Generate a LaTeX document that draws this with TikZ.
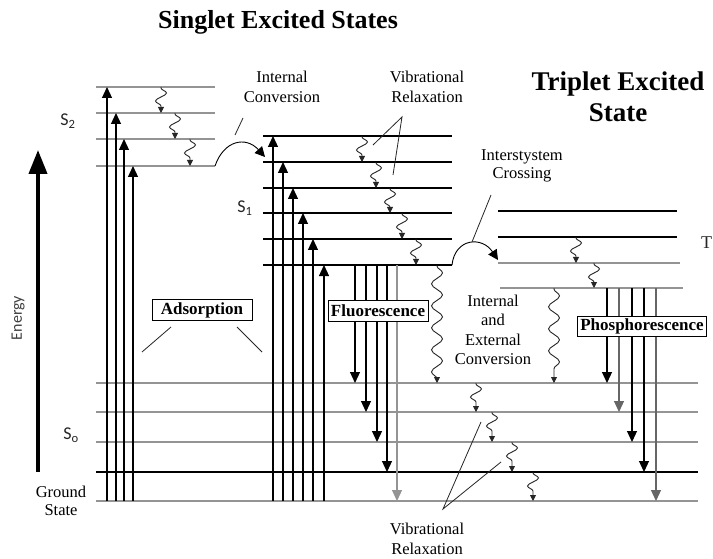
\documentclass[tikz,border=0pt]{standalone}
\usepackage{fontspec}
\setmainfont{Liberation Serif}
\newfontfamily\calib{Carlito}
\usetikzlibrary{arrows.meta,decorations.pathmorphing}
\definecolor{lvlgray}{gray}{0.58}
\tikzset{
  lvl/.style={line width=1.7pt, draw=lvlgray},
  lvlb/.style={line width=1.3pt, draw=black},
  absarrow/.style={line width=1.2pt, -{Triangle[width=10pt,length=11pt]}},
  emarrow/.style={line width=1.2pt, -{Triangle[width=10pt,length=11pt]}},
  wav/.style={line width=0.9pt, draw=black!85, decorate,
    decoration={snake, amplitude=5.5pt, segment length=16pt, pre length=1pt, post length=4pt},
    -{Triangle[width=6pt,length=6pt]}},
  longwav/.style={line width=0.9pt, draw=black!85, decorate,
    decoration={snake, amplitude=5.5pt, segment length=22pt, pre length=1pt, post length=4pt},
    -{Triangle[width=6pt,length=6pt]}},
  curvarrow/.style={line width=0.9pt, -{Triangle[width=10pt,length=10pt]}},
  pointer/.style={line width=0.8pt, draw=black!85},
  lbl/.style={font=\fontsize{16.5}{19.5}\selectfont, align=center, inner sep=0pt},
  title/.style={font=\fontsize{26}{31}\selectfont\bfseries, align=center, inner sep=0pt},
  boxlbl/.style={draw, line width=0.9pt, fill=white, font=\fontsize{17}{19}\selectfont\bfseries,
    inner sep=0pt, minimum height=21pt},
  slbl/.style={font=\calib\fontsize{18}{20}\selectfont, text=black!85, inner sep=0pt}
}
\begin{document}
\begin{tikzpicture}[x=1pt,y=-1pt]
\useasboundingbox (0,0) rectangle (713,559);
\fill[white] (0,0) rectangle (713,559);

% ---------- level lines ----------
% S2 (gray)
\foreach \y [count=\i] in {87,113,139,166} {
  \coordinate (s2l\i) at (96,\y); \coordinate (s2r\i) at (215,\y);
  \draw[lvl] (s2l\i) -- (s2r\i);
}
% S1 (black)
\foreach \y [count=\i] in {136,162,188,213,239,265} {
  \coordinate (s1l\i) at (263,\y); \coordinate (s1r\i) at (452,\y);
  \draw[lvlb] (s1l\i) -- (s1r\i);
}
% T1
\coordinate (t1l1) at (498,211); \coordinate (t1r1) at (677,211);
\coordinate (t1l2) at (498,237); \coordinate (t1r2) at (677,237);
\coordinate (t1l3) at (498,263); \coordinate (t1r3) at (680,263);
\coordinate (t1l4) at (500,288); \coordinate (t1r4) at (683,288);
\draw[lvlb] (t1l1) -- (t1r1);
\draw[lvlb] (t1l2) -- (t1r2);
\draw[lvl] (t1l3) -- (t1r3);
\draw[lvl] (t1l4) -- (t1r4);
% S0
\foreach \y [count=\i] in {383,412,442,472,501} {
  \coordinate (s0l\i) at (96,\y); \coordinate (s0r\i) at (698,\y);
}
\draw[lvl] (s0l1) -- (s0r1);
\draw[lvl] (s0l2) -- (s0r2);
\draw[lvl] (s0l3) -- (s0r3);
\draw[lvlb] (s0l4) -- (s0r4);
\draw[lvl] (s0l5) -- (s0r5);

% ---------- absorption ----------
\foreach \x/\y [count=\i] in {107/87,116/113,124/139,133/166} {
  \coordinate (a2b\i) at (\x,501); \coordinate (a2t\i) at (\x,\y);
  \draw[absarrow] (a2b\i) -- (a2t\i);
}
\foreach \x/\y [count=\i] in {273/136,283/162,293/188,303/213,313/239,324/265} {
  \coordinate (a1b\i) at (\x,501); \coordinate (a1t\i) at (\x,\y);
  \draw[absarrow] (a1b\i) -- (a1t\i);
}

% ---------- fluorescence ----------
\foreach \x/\y/\c [count=\i] in {355/383/black,366/412/black,377/442/black,387/472/black,397/501/lvlgray} {
  \coordinate (fs\i) at (\x,265); \coordinate (fe\i) at (\x,\y);
  \draw[emarrow, draw=\c] (fs\i) -- (fe\i);
}
% ---------- phosphorescence ----------
\foreach \x/\y/\c [count=\i] in {607/383/black,619/412/black!60,632/442/black,644/472/black,656/501/black!60} {
  \coordinate (ps\i) at (\x,288); \coordinate (pe\i) at (\x,\y);
  \draw[emarrow, draw=\c] (ps\i) -- (pe\i);
}

% ---------- vibrational relaxation squiggles ----------
\foreach \x/\ya/\yb [count=\i] in {161/87/113,175/113/139,190/139/166} {
  \coordinate (v2a\i) at (\x,\ya); \coordinate (v2b\i) at (\x,\yb);
  \draw[wav] (v2a\i) -- (v2b\i);
}
\foreach \x/\ya/\yb [count=\i] in {362/136/162,376/162/188,390/188/213,402/213/239,416/239/265} {
  \coordinate (v1a\i) at (\x,\ya); \coordinate (v1b\i) at (\x,\yb);
  \draw[wav] (v1a\i) -- (v1b\i);
}
\foreach \x/\ya/\yb [count=\i] in {576/237/263,594/263/288} {
  \coordinate (vta\i) at (\x,\ya); \coordinate (vtb\i) at (\x,\yb);
  \draw[wav] (vta\i) -- (vtb\i);
}
\foreach \x/\ya/\yb [count=\i] in {476/383/412,492/412/442,512/442/472,533/472/501} {
  \coordinate (v0a\i) at (\x,\ya); \coordinate (v0b\i) at (\x,\yb);
  \draw[wav] (v0a\i) -- (v0b\i);
}
% long internal/external conversion
\coordinate (ic1a) at (437,265); \coordinate (ic1b) at (437,383);
\draw[longwav] (ic1a) -- (ic1b);
\coordinate (ic2a) at (554,288); \coordinate (ic2b) at (554,383);
\draw[longwav] (ic2a) -- (ic2b);

% ---------- curved arrows ----------
\draw[curvarrow] (s2r4) .. controls (224,140) and (246,136) .. (265,157) coordinate (icend);
\draw[curvarrow] (s1r6) .. controls (455,238) and (482,236) .. (498,260) coordinate (iscend);

% ---------- energy arrow ----------
\coordinate (eb) at (38,472); \coordinate (et) at (38,150);
\draw[line width=4pt, -{Triangle[width=18pt,length=24pt]}] (eb) -- (et);
\node[slbl, rotate=90, text=black!75, font=\calib\fontsize{16}{18}\selectfont] (energy) at (18,318) {Energy};

% ---------- labels ----------
\node[title] (singlet) at (278,22) {Singlet Excited States};
\node[title, font=\fontsize{27}{31}\selectfont\bfseries] (triplet) at (618,97) {Triplet Excited\\State};

\node[lbl] (iclbl) at (282,87) {Internal\\Conversion};
\node[lbl] (vrtop) at (427,87) {Vibrational\\Relaxation};
\node[lbl, font=\fontsize{16.5}{18.5}\selectfont] (isclbl) at (522,166) {Interstystem\\Crossing};
\node[lbl] (ieclbl) at (493,330) {Internal\\and\\External\\Conversion};
\node[lbl] (vrbot) at (427,539) {Vibrational\\Relaxation};
\node[lbl, font=\fontsize{16.5}{18}\selectfont] (ground) at (61,501) {Ground\\State};

\node[slbl] (s2) at (68,121) {S\textsubscript{2}};
\node[slbl] (s1) at (245,208) {S\textsubscript{1}};
\node[slbl] (s0) at (71,435) {S\textsubscript{o}};
\node[slbl, font=\fontsize{18}{20}\selectfont, anchor=west] (t1) at (701,244) {T\textsubscript{1}};

% boxes
\node[boxlbl, minimum width=100pt] (abs) at (202,310) {Adsorption};
\node[boxlbl, minimum width=100pt] (fluo) at (378,311) {Fluorescence};
\node[boxlbl, minimum width=129pt, minimum height=20pt] (phos) at (642,326) {Phosphorescence};

% ---------- pointer lines ----------
\coordinate (icp1) at (235,135); \coordinate (icp2) at (243,118);
\draw[pointer] (icp1) -- (icp2);
\coordinate (vrt0) at (402,117); \coordinate (vrt1) at (373,145); \coordinate (vrt2) at (393,175);
\draw[pointer] (vrt1) -- (vrt0) -- (vrt2);
\coordinate (isc1) at (491,195); \coordinate (isc2) at (472,242);
\draw[pointer] (isc1) -- (isc2);
\coordinate (ab1) at (171,327); \coordinate (ab2) at (142,352);
\coordinate (ab3) at (237,327); \coordinate (ab4) at (262,352);
\draw[pointer] (ab1) -- (ab2);
\draw[pointer] (ab3) -- (ab4);
\coordinate (vrb0) at (443,509); \coordinate (vrb1) at (481,422); \coordinate (vrb2) at (501,462);
\draw[pointer] (vrb1) -- (vrb0) -- (vrb2);
\end{tikzpicture}
\end{document}
